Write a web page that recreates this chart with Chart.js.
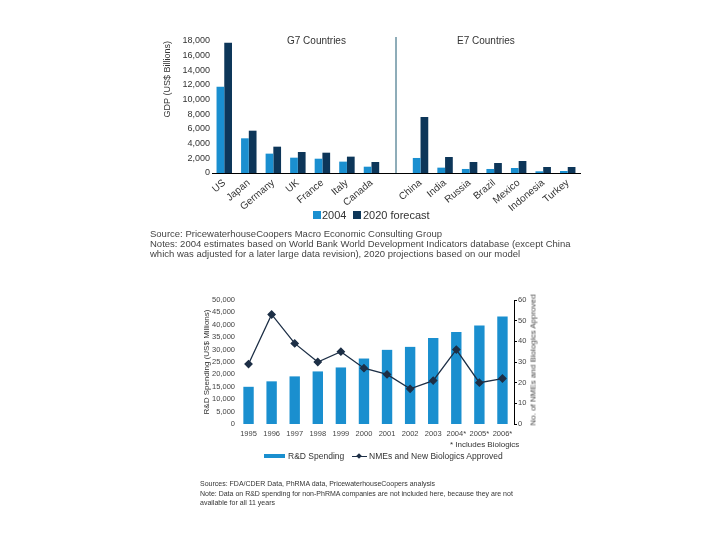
<!DOCTYPE html>
<html>
<head>
<meta charset="UTF-8">
<title>GDP G7 / E7 y gasto en I+D</title>
<script src="https://cdn.jsdelivr.net/npm/chart.js"></script>
<style>
  body {
    margin: 0;
    width: 720px;
    height: 540px;
    background: #fff;
    color: #333;
    font-family: "Liberation Sans", Arial, sans-serif;
    position: relative;
    overflow: hidden;
  }
  .caja { position: absolute; }
  .txt { position: absolute; white-space: nowrap; }
  .sq { position: absolute; }
</style>
</head>
<body>

<!-- grafica de arriba -->
<div class="caja" style="left:150px; top:28px; width:440px; height:190px;">
  <canvas id="gdp"></canvas>
</div>
<div class="txt" style="left:287px; top:35px; font-size:10px;">G7 Countries</div>
<div class="txt" style="left:457px; top:35px; font-size:10px;">E7 Countries</div>

<div class="sq" style="left:313px; top:211px; width:8px; height:8px; background:#1a8fd0;"></div>
<div class="txt" style="left:322px; top:209px; font-size:11px;">2004</div>
<div class="sq" style="left:353px; top:211px; width:8px; height:8px; background:#0d3659;"></div>
<div class="txt" style="left:363px; top:209px; font-size:11px;">2020 forecast</div>

<div class="txt" style="left:150px; top:229px; font-size:9.5px; line-height:10px; color:#444;">
  Source: PricewaterhouseCoopers Macro Economic Consulting Group<br>
  Notes: 2004 estimates based on World Bank World Development Indicators database (except China<br>
  which was adjusted for a later large data revision), 2020 projections based on our model
</div>

<!-- grafica de abajo -->
<div class="caja" style="left:190px; top:288px; width:352px; height:156px;">
  <canvas id="rd"></canvas>
</div>
<div class="txt" style="left:533px; top:360px; font-size:8px; color:#444; transform:translate(-50%,-50%) rotate(-90deg);">No. of NMEs and Biologics Approved</div>
<div class="txt" style="left:450px; top:440px; font-size:8px; color:#333;">* Includes Biologics</div>

<div class="sq" style="left:264px; top:454px; width:21px; height:4px; background:#1a8fcf;"></div>
<div class="txt" style="left:288px; top:451px; font-size:8.5px; color:#333;">R&amp;D Spending</div>
<div class="sq" style="left:352px; top:456px; width:15px; height:1px; background:#1d2f46;"></div>
<div class="sq" style="left:357px; top:454px; width:4px; height:4px; background:#1d2f46; transform:rotate(45deg);"></div>
<div class="txt" style="left:369px; top:451px; font-size:8.5px; color:#333;">NMEs and New Biologics Approved</div>

<div class="txt" style="left:200px; top:479px; font-size:7px; line-height:9.5px; color:#333;">
  Sources: FDA/CDER Data, PhRMA data, PricewaterhouseCoopers analysis<br>
  Note: Data on R&amp;D spending for non-PhRMA companies are not included here, because they are not<br>
  available for all 11 years
</div>

<script>
  // datos de la grafica de PIB
  var paises = ['US', 'Japan', 'Germany', 'UK', 'France', 'Italy', 'Canada', '',
                'China', 'India', 'Russia', 'Brazil', 'Mexico', 'Indonesia', 'Turkey'];
  var pib2004 = [11750, 4730, 2640, 2090, 1950, 1550, 860, null,
                 2050, 730, 550, 550, 680, 230, 270];
  var pib2020 = [17750, 5770, 3590, 2860, 2770, 2230, 1500, null,
                 7640, 2180, 1500, 1360, 1640, 820, 820];

  // datos de la grafica de I+D
  var anios = ['1995', '1996', '1997', '1998', '1999', '2000', '2001', '2002',
               '2003', '2004*', '2005*', '2006*'];
  var gastoID = [15000, 17200, 19200, 21200, 22800, 26400, 29900, 31100,
                 34700, 37100, 39700, 43300];
  var aprobados = [29, 53, 39, 30, 35, 27, 24, 17, 21, 36, 20, 22];

  Chart.defaults.font.family = '"Liberation Sans", Arial, sans-serif';
  Chart.defaults.color = '#333';
  Chart.defaults.animation = false;

  // linea vertical entre G7 y E7
  var separador = {
    id: 'separador',
    afterDatasetsDraw: function(chart) {
      var x = chart.scales.x.getPixelForValue(7);
      var ctx = chart.ctx;
      ctx.save();
      ctx.strokeStyle = '#1f5a73';
      ctx.lineWidth = 1;
      ctx.beginPath();
      ctx.moveTo(x, chart.chartArea.top - 4);
      ctx.lineTo(x, chart.chartArea.bottom);
      ctx.stroke();
      ctx.restore();
    }
  };

  new Chart(document.getElementById('gdp'), {
    type: 'bar',
    data: {
      labels: paises,
      datasets: [
        { label: '2004', data: pib2004, backgroundColor: '#1a8fd0' },
        { label: '2020 forecast', data: pib2020, backgroundColor: '#0d3659' }
      ]
    },
    options: {
      responsive: true,
      maintainAspectRatio: false,
      layout: { padding: { top: 13, right: 10, left: 0, bottom: 0 } },
      datasets: { bar: { barPercentage: 1, categoryPercentage: 0.63 } },
      plugins: { legend: { display: false }, tooltip: { enabled: false } },
      scales: {
        x: {
          grid: { display: false, drawTicks: false },
          border: { display: true, color: '#000', width: 1 },
          ticks: { font: { size: 10 }, color: '#333', maxRotation: 40, minRotation: 40, padding: 4, autoSkip: false },
          afterFit: function(s) { s.height = 45; }
        },
        y: {
          min: 0,
          max: 18000,
          grid: { display: false, drawTicks: false },
          border: { display: false },
          ticks: {
            stepSize: 2000,
            autoSkip: false,
            font: { size: 9 },
            color: '#333',
            padding: 2,
            callback: function(v) { return v.toLocaleString('en-US'); }
          },
          title: {
            display: true,
            text: 'GDP (US$ Billions)',
            align: 'end',
            font: { size: 9 },
            color: '#333',
            padding: { top: 12, bottom: 0 }
          },
          afterFit: function(s) { s.width = 62; }
        }
      }
    },
    plugins: [separador]
  });

  new Chart(document.getElementById('rd'), {
    type: 'bar',
    data: {
      labels: anios,
      datasets: [
        {
          type: 'line',
          label: 'NMEs and New Biologics Approved',
          data: aprobados,
          yAxisID: 'y1',
          borderColor: '#1d2f46',
          backgroundColor: '#1d2f46',
          borderWidth: 1.3,
          pointStyle: 'rectRot',
          pointRadius: 3.5,
          tension: 0,
          order: 1
        },
        {
          label: 'R&D Spending',
          data: gastoID,
          yAxisID: 'y',
          backgroundColor: '#1a8fcf',
          barPercentage: 0.45,
          categoryPercentage: 1,
          order: 2
        }
      ]
    },
    options: {
      responsive: true,
      maintainAspectRatio: false,
      layout: { padding: { top: 12, right: 0, left: 0, bottom: 0 } },
      plugins: { legend: { display: false }, tooltip: { enabled: false } },
      scales: {
        x: {
          grid: { display: false, drawTicks: false },
          border: { display: false },
          ticks: { font: { size: 7.5 }, color: '#444', maxRotation: 0, padding: 5, autoSkip: false },
          afterFit: function(s) { s.height = 20; }
        },
        y: {
          position: 'left',
          min: 0,
          max: 50000,
          grid: { display: false, drawTicks: false },
          border: { display: false },
          ticks: {
            stepSize: 5000,
            autoSkip: false,
            font: { size: 7.5 },
            color: '#444',
            padding: 2,
            callback: function(v) { return v.toLocaleString('en-US'); }
          },
          title: {
            display: true,
            text: 'R&D Spending (US$ Millions)',
            font: { size: 8 },
            color: '#333',
            padding: { top: 12, bottom: 0 }
          },
          afterFit: function(s) { s.width = 47; }
        },
        y1: {
          position: 'right',
          min: 0,
          max: 60,
          grid: { drawOnChartArea: false, tickLength: 3, color: '#000' },
          border: { display: true, color: '#000', width: 1 },
          ticks: { stepSize: 10, autoSkip: false, font: { size: 7.5 }, color: '#444', padding: 1 },
          afterFit: function(s) { s.width = 28; }
        }
      }
    }
  });
</script>
</body>
</html>
